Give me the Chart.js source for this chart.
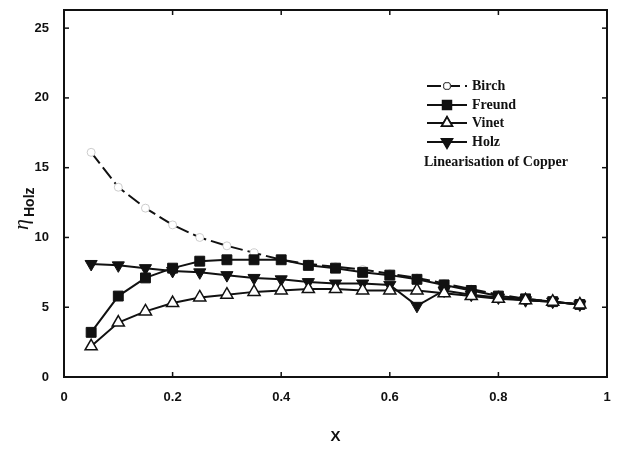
<!DOCTYPE html>
<html>
<head>
<meta charset="utf-8">
<script src="https://cdn.jsdelivr.net/npm/chart.js@4.4.1/dist/chart.umd.min.js"></script>
<style>
  body { margin: 0; background: #fff; }
  #wrap { width: 617px; height: 450px; }
</style>
</head>
<body>
<div id="wrap"><canvas id="myChart"></canvas></div>
<script>
const xValues = [0.05, 0.1, 0.15, 0.2, 0.25, 0.3, 0.35, 0.4, 0.45, 0.5, 0.55, 0.6, 0.65, 0.7, 0.75, 0.8, 0.85, 0.9, 0.95];
const birch  = [16.1, 13.6, 12.1, 10.9, 10.0, 9.4, 8.9, 8.4, 8.1, 7.9, 7.7, 7.4, 7.1, 6.7, 6.3, 5.9, 5.6, 5.4, 5.2];
const freund = [3.2, 5.8, 7.1, 7.8, 8.3, 8.4, 8.4, 8.4, 8.0, 7.8, 7.5, 7.3, 7.0, 6.6, 6.2, 5.8, 5.6, 5.4, 5.2];
const vinet  = [2.2, 3.9, 4.7, 5.3, 5.7, 5.9, 6.1, 6.2, 6.3, 6.3, 6.2, 6.2, 6.2, 6.0, 5.8, 5.6, 5.5, 5.4, 5.2];
const holz   = [8.1, 8.0, 7.8, 7.6, 7.5, 7.3, 7.1, 7.0, 6.8, 6.7, 6.7, 6.6, 5.1, 6.2, 5.9, 5.7, 5.5, 5.4, 5.2];
const xTicks = [0, 0.2, 0.4, 0.6, 0.8, 1];
const yTicks = [0, 5, 10, 15, 20, 25];
const legendNames = ['Birch', 'Freund', 'Vinet', 'Holz'];
const legendNote = 'Linearisation of Copper';

const pts = arr => arr.map((v, i) => ({ x: xValues[i], y: v }));

// box + inward ticks, legend and the y title
const extras = {
    id: 'extras',
    afterDraw(chart) {
        const c = chart.ctx;
        const a = chart.chartArea;
        const xs = chart.scales.x, ys = chart.scales.y;
        c.save();
        c.strokeStyle = '#111';
        c.lineWidth = 2;
        c.strokeRect(a.left, a.top, a.right - a.left, a.bottom - a.top);
        c.lineWidth = 1.5;
        xTicks.forEach(t => {
            const px = xs.getPixelForValue(t);
            c.beginPath(); c.moveTo(px, a.bottom); c.lineTo(px, a.bottom - 5); c.stroke();
            c.beginPath(); c.moveTo(px, a.top); c.lineTo(px, a.top + 5); c.stroke();
        });
        yTicks.forEach(t => {
            const py = ys.getPixelForValue(t);
            c.beginPath(); c.moveTo(a.left, py); c.lineTo(a.left + 5, py); c.stroke();
            c.beginPath(); c.moveTo(a.right, py); c.lineTo(a.right - 5, py); c.stroke();
        });

        // legend
        const lx = 427, rowY = [86, 105, 123, 142];
        chart.data.datasets.forEach((ds, i) => {
            const y = rowY[i];
            c.strokeStyle = '#111';
            c.lineWidth = 2;
            c.setLineDash(ds.borderDash || []);
            c.beginPath(); c.moveTo(lx, y); c.lineTo(lx + 40, y); c.stroke();
            c.setLineDash([]);
            Chart.helpers.drawPoint(c, {
                pointStyle: ds.pointStyle, rotation: ds.pointRotation || 0,
                radius: ds.pointRadius - 1, borderWidth: ds.pointBorderWidth
            }, lx + 20, y);
            c.fillStyle = ds.pointBackgroundColor;
            c.strokeStyle = ds.pointBorderColor;
            c.lineWidth = ds.pointBorderWidth;
            c.fill(); c.stroke();
            c.fillStyle = '#111';
            c.font = 'bold 14px "Liberation Serif"';
            c.textBaseline = 'middle';
            c.fillText(legendNames[i], lx + 45, y);
        });
        c.font = 'bold 14px "Liberation Serif"';
        c.fillText(legendNote, 424, 162);

        // y title
        c.translate(28, 230);
        c.rotate(-Math.PI / 2);
        c.textBaseline = 'alphabetic';
        c.font = 'italic 22px "Liberation Serif"';
        c.fillText('η', 0, 0);
        c.font = 'bold 14px "Liberation Sans"';
        c.fillText('Holz', 13, 6);
        c.restore();
    }
};

const ctx = document.getElementById('myChart');
const myChart = new Chart(ctx, {
    type: 'line',
    data: {
        datasets: [{
            label: 'Birch',
            data: pts(birch),
            order: 4,
            borderColor: '#111',
            borderWidth: 2,
            borderDash: [14, 5],
            pointStyle: 'circle',
            pointRadius: 4,
            pointBackgroundColor: '#fff',
            pointBorderColor: '#ccc',
            pointBorderWidth: 1
        }, {
            label: 'Freund',
            data: pts(freund),
            order: 3,
            borderColor: '#111',
            borderWidth: 2,
            pointStyle: 'rect',
            pointRadius: 7,
            pointBackgroundColor: '#111',
            pointBorderColor: '#111',
            pointBorderWidth: 1
        }, {
            label: 'Vinet',
            data: pts(vinet),
            order: 1,
            borderColor: '#111',
            borderWidth: 2,
            pointStyle: 'triangle',
            pointRadius: 7,
            pointBackgroundColor: '#fff',
            pointBorderColor: '#111',
            pointBorderWidth: 1.5
        }, {
            label: 'Holz',
            data: pts(holz),
            order: 2,
            borderColor: '#111',
            borderWidth: 2,
            pointStyle: 'triangle',
            pointRotation: 180,
            pointRadius: 7,
            pointBackgroundColor: '#111',
            pointBorderColor: '#111',
            pointBorderWidth: 1
        }]
    },
    options: {
        responsive: true,
        maintainAspectRatio: false,
        animation: false,
        layout: { padding: { top: 10, right: 10, left: 0, bottom: 0 } },
        plugins: { legend: { display: false }, tooltip: { enabled: false } },
        scales: {
            x: {
                type: 'linear',
                min: 0,
                max: 1,
                afterFit: s => { s.height = 73; s.paddingLeft = 0; s.paddingRight = 0; },
                afterBuildTicks: s => { s.ticks = xTicks.map(v => ({ value: v })); },
                grid: { display: false },
                border: { display: false },
                ticks: {
                    color: '#111',
                    padding: 5,
                    font: { family: 'Liberation Sans', size: 13, weight: 'bold' },
                    callback: v => String(v)
                },
                title: {
                    display: true,
                    text: 'X',
                    color: '#111',
                    padding: { top: 0, bottom: 4 },
                    font: { family: 'Liberation Sans', size: 15, weight: 'bold' }
                }
            },
            y: {
                min: 0,
                max: 26.3,
                afterFit: s => { s.width = 64; s.paddingTop = 0; s.paddingBottom = 0; },
                afterBuildTicks: s => { s.ticks = yTicks.map(v => ({ value: v })); },
                grid: { display: false },
                border: { display: false },
                ticks: {
                    color: '#111',
                    padding: 7,
                    font: { family: 'Liberation Sans', size: 13, weight: 'bold' }
                }
            }
        }
    },
    plugins: [extras]
});
</script>
</body>
</html>
